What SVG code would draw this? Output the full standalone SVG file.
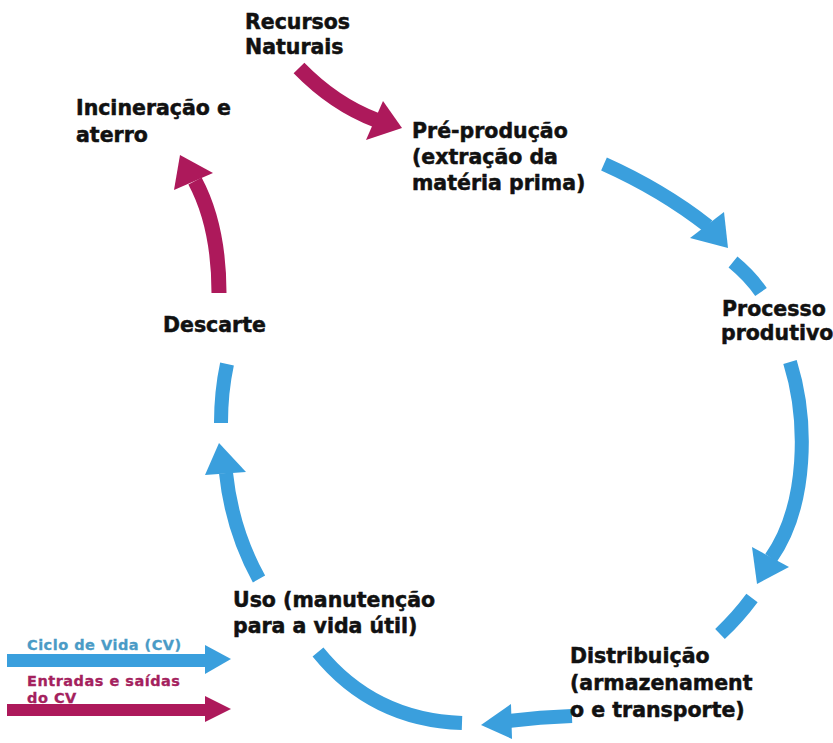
<svg xmlns="http://www.w3.org/2000/svg" width="833" height="743" viewBox="0 0 833 743">
<style>
  .lbl { font-family: "DejaVu Sans", "Liberation Sans", sans-serif; font-weight: bold; font-size: 20.5px; fill: #111; stroke: #111; stroke-width: 0.5px; }
  .leg { font-family: "DejaVu Sans", "Liberation Sans", sans-serif; font-weight: bold; font-size: 14.5px; letter-spacing: 0.5px; stroke-width: 0.3px; }
  .bs { fill: none; stroke: #3a9fdd; stroke-width: 14; stroke-linecap: butt; }
  .bh { fill: #3a9fdd; }
  .ms { fill: none; stroke: #ad195b; stroke-width: 15; stroke-linecap: butt; }
  .mh { fill: #ad195b; }
</style>
<rect width="833" height="743" fill="#ffffff"/>

<g id="connectors">
  <!-- Recursos -> Pré-produção -->
  <path class="ms" d="M299 68 Q334 104 376 120"/>
  <polygon class="mh" points="383,101 402,128 366,140"/>
  <!-- Pré-produção -> Processo -->
  <path class="bs" d="M604 164 Q662 190 708 226"/>
  <polygon class="bh" points="690,238 724,212 728,248"/>
  <path class="bs" d="M733 262 Q750 276 761 292"/>
  <!-- Processo -> Distribuição -->
  <path class="bs" d="M790 362 C808 420 808 505 771 558"/>
  <polygon class="bh" points="752,547 789,567 757,584"/>
  <path class="bs" d="M752 598 Q738 617 720 634"/>
  <!-- Distribuição -> Uso -->
  <path class="bs" d="M572 716 Q540 717 508 721"/>
  <polygon class="bh" points="511,704 512,739 481,725"/>
  <path class="bs" d="M318 652 Q373 720 462 723"/>
  <!-- Uso -> Descarte -->
  <path class="bs" d="M259 579 Q232 530 226 473"/>
  <polygon class="bh" points="205,475 246,472 219,443"/>
  <path class="bs" d="M227 364 Q221 392 221 423"/>
  <!-- Descarte -> Incineração -->
  <path class="ms" d="M219 293 Q219 226 195 181"/>
  <polygon class="mh" points="174,190 213,173 180,155"/>
</g>

<g id="node-recursos">
  <text class="lbl" x="245" y="29">Recursos</text>
  <text class="lbl" x="245" y="54">Naturais</text>
</g>
<g id="node-incineracao">
  <text class="lbl" x="76" y="115">Incineração e</text>
  <text class="lbl" x="76" y="142">aterro</text>
</g>
<g id="node-preproducao">
  <text class="lbl" x="412" y="138">Pré-produção</text>
  <text class="lbl" x="412" y="164">(extração da</text>
  <text class="lbl" x="412" y="190">matéria prima)</text>
</g>
<g id="node-processo">
  <text class="lbl" x="722" y="316">Processo</text>
  <text class="lbl" x="721" y="340">produtivo</text>
</g>
<g id="node-descarte">
  <text class="lbl" x="163" y="332">Descarte</text>
</g>
<g id="node-uso">
  <text class="lbl" x="233" y="607">Uso (manutenção</text>
  <text class="lbl" x="233" y="633">para a vida útil)</text>
</g>
<g id="node-distribuicao">
  <text class="lbl" x="570" y="663">Distribuição</text>
  <text class="lbl" x="570" y="690">(armazenament</text>
  <text class="lbl" x="570" y="717">o e transporte)</text>
</g>

<g id="legend">
  <text class="leg" x="27" y="650" fill="#4a9bc6" stroke="#4a9bc6">Ciclo de Vida (CV)</text>
  <path class="bs" d="M7 660.5 L206 660.5" style="stroke-width:13"/>
  <polygon class="bh" points="205,645 231,659 205,674"/>
  <text class="leg" x="27" y="686" fill="#a4215d" stroke="#a4215d">Entradas e saídas</text>
  <text class="leg" x="27" y="702.5" fill="#a4215d" stroke="#a4215d">do CV</text>
  <path class="ms" d="M7 710 L206 710" style="stroke-width:12"/>
  <polygon class="mh" points="205,696 231,709 205,722"/>
</g>
</svg>
